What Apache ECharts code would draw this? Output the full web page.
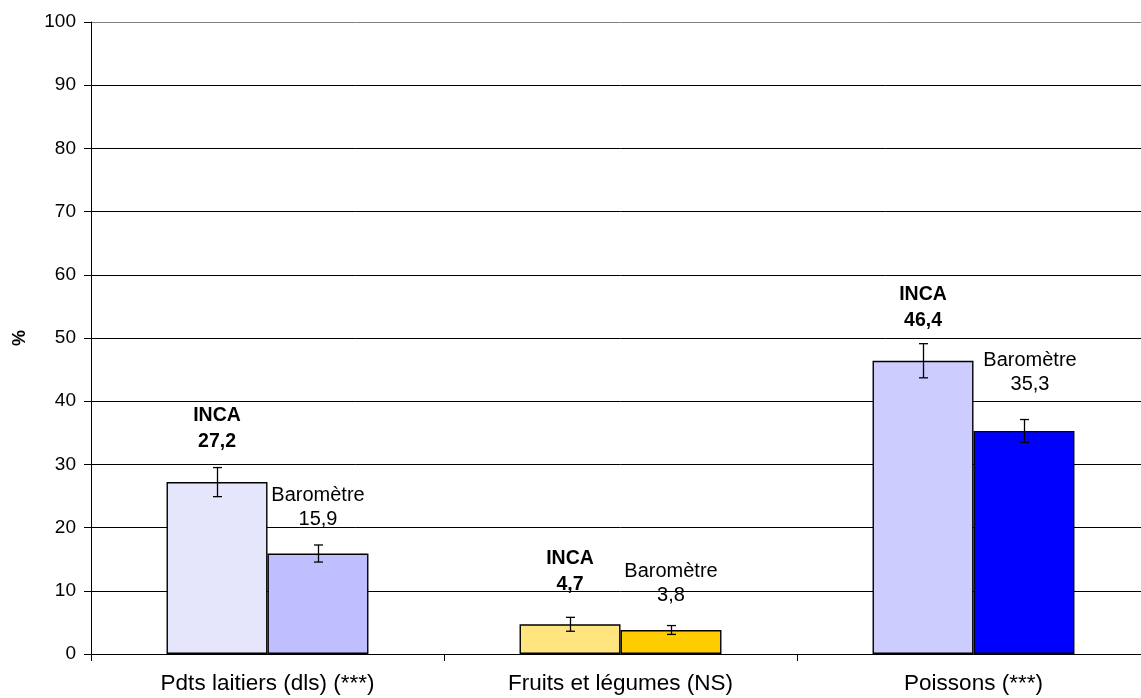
<!DOCTYPE html>
<html>
<head>
<meta charset="utf-8">
<script src="https://cdn.jsdelivr.net/npm/echarts@6/dist/echarts.min.js"></script>
<style>html,body{margin:0;padding:0;background:#fff;overflow:hidden;}#c{width:1150px;height:698px;}</style>
</head>
<body>
<div id="c"></div>
<script>
const categories = ['Pdts laitiers (dls) (***)', 'Fruits et légumes (NS)', 'Poissons (***)'];
const incaValues = [27.2, 4.7, 46.4];
const incaErr = [2.3, 1.1, 2.7];
const baroValues = [15.9, 3.8, 35.3];
const baroErr = [1.35, 0.7, 1.8];
const yTicks = [0, 10, 20, 30, 40, 50, 60, 70, 80, 90, 100];

const incaColors = ['#E5E5FB', '#FFE480', '#CCCCFF'];
const baroColors = ['#BFBFFF', '#FFCC00', '#0000FF'];
const baroLabelOffsets = [[0, 0], [0, 0], [6, -12]];
const gridColors = ['#000', '#000', '#000', '#000', '#000', '#000', '#000', '#000', '#000', '#000', '#808080'];

const FONT = 'Liberation Sans, Arial, sans-serif';
const BAR_PCT = 0.286;

function fmt(v) { return String(v).replace('.', ','); }

function errSeries(values, errs, side) {
  return {
    type: 'custom',
    z: 5,
    data: values.map((v, i) => [i, v, errs[i]]),
    renderItem: function (params, api) {
      const i = api.value(0), v = api.value(1), e = api.value(2);
      const band = api.size([1, 0])[0];
      const off = side * band * BAR_PCT / 2;
      const top = api.coord([i, v + e]);
      const bot = api.coord([i, v - e]);
      const x = Math.round(top[0] + off) + 0.5;
      const cap = 4.5;
      const st = { stroke: '#000', lineWidth: 1.3 };
      return {
        type: 'group',
        children: [
          { type: 'line', shape: { x1: x, y1: top[1], x2: x, y2: bot[1] }, style: st },
          { type: 'line', shape: { x1: x - cap, y1: top[1], x2: x + cap, y2: top[1] }, style: st },
          { type: 'line', shape: { x1: x - cap, y1: bot[1], x2: x + cap, y2: bot[1] }, style: st }
        ]
      };
    }
  };
}

const chart = echarts.init(document.getElementById('c'), null, { renderer: 'canvas' });
chart.setOption({
  animation: false,
  backgroundColor: '#fff',
  textStyle: { fontFamily: FONT },
  grid: { left: 91, top: 22, right: 0, height: 632, containLabel: false },
  xAxis: {
    type: 'category',
    data: categories,
    axisLine: { lineStyle: { color: '#000', width: 1 } },
    axisTick: { show: true, length: 7, alignWithLabel: false, lineStyle: { color: '#000' } },
    axisLabel: { color: '#000', fontSize: 22.5, fontFamily: FONT, margin: 18 },
    splitLine: { show: false }
  },
  yAxis: {
    type: 'value',
    min: 0, max: 100, interval: 10,
    name: '%',
    nameLocation: 'middle',
    nameGap: 62,
    nameRotate: 90,
    nameTextStyle: { color: '#000', fontSize: 18, fontWeight: 'bold', fontFamily: FONT },
    axisLine: { show: true, lineStyle: { color: '#000', width: 1 } },
    axisTick: { show: true, length: 7, inside: false, lineStyle: { color: '#000' } },
    axisLabel: { color: '#000', fontSize: 19, fontFamily: FONT, margin: 15,
      formatter: v => yTicks.includes(v) ? String(v) : '' },
    splitLine: { show: true, lineStyle: { color: gridColors, width: 1 } }
  },
  series: [
    {
      name: 'INCA',
      type: 'bar',
      barWidth: (BAR_PCT * 100) + '%',
      barGap: '0%',
      data: incaValues.map((v, i) => ({ value: v, itemStyle: { color: incaColors[i] } })),
      itemStyle: { borderColor: '#000', borderWidth: 1.4 },
      label: {
        show: true, position: 'top', distance: 27,
        color: '#000', fontSize: 19.5, fontWeight: 'bold', lineHeight: 26, fontFamily: FONT,
        align: 'center',
        formatter: p => 'INCA\n' + fmt(p.value)
      }
    },
    {
      name: 'Baromètre',
      type: 'bar',
      barWidth: (BAR_PCT * 100) + '%',
      barGap: '0%',
      data: baroValues.map((v, i) => ({ value: v, itemStyle: { color: baroColors[i] },
        label: { offset: baroLabelOffsets[i] } })),
      itemStyle: { borderColor: '#000', borderWidth: 1.4 },
      label: {
        show: true, position: 'top', distance: 22,
        color: '#000', fontSize: 20, lineHeight: 24, fontFamily: FONT,
        align: 'center',
        formatter: p => 'Baromètre\n' + fmt(p.value)
      }
    },
    errSeries(incaValues, incaErr, -1),
    errSeries(baroValues, baroErr, 1)
  ]
});
</script>
</body>
</html>
